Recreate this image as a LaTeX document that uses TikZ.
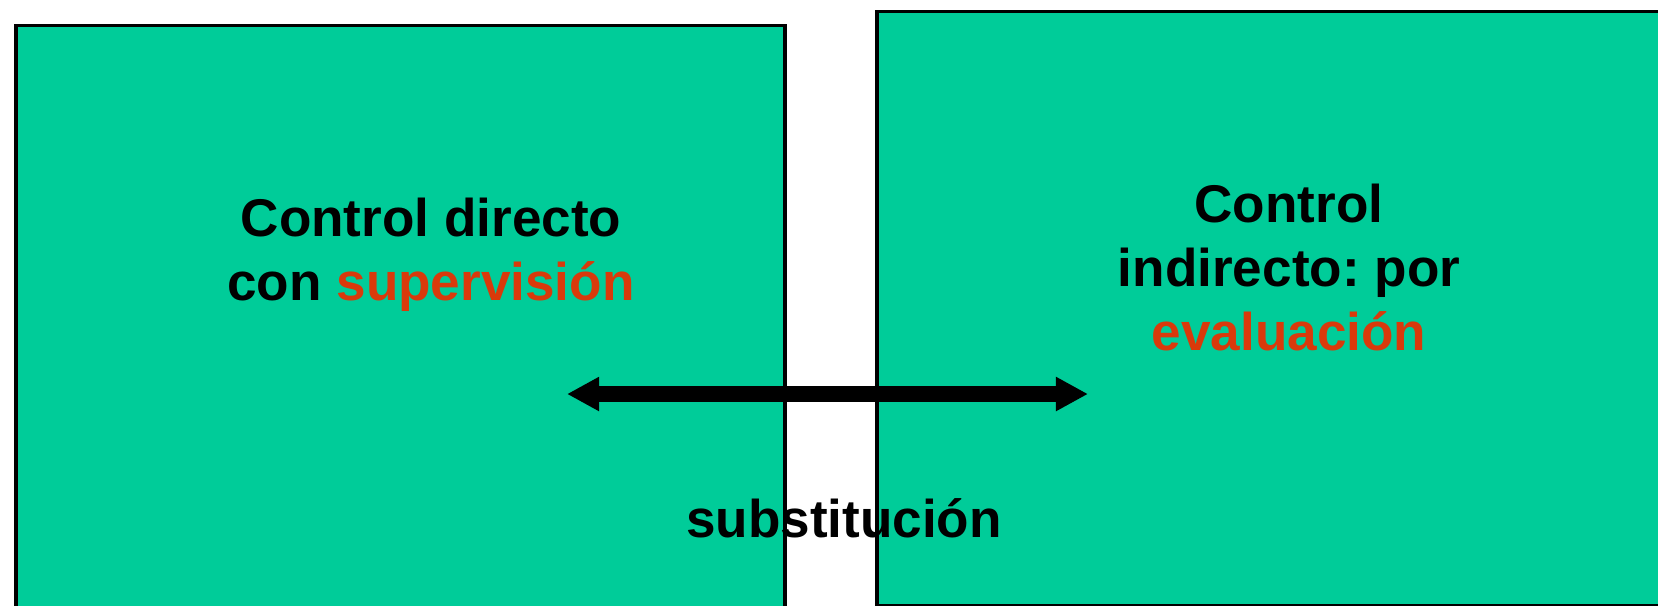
\documentclass[tikz,border=0pt]{standalone}
\usepackage{fontspec}
\setmainfont{Liberation Sans}
\usepackage{xcolor}
\usepackage{tikz}
\usetikzlibrary{arrows.meta,positioning}
\definecolor{Mint}{HTML}{00CC99}
\definecolor{Rust}{HTML}{D93A0B}
\frenchspacing
\tikzset{
  panelbox/.style={draw=black, fill=Mint, line width=1pt, inner sep=0pt, anchor=north west},
  bigtext/.style={font=\fontsize{15.1}{18.1}\selectfont\bfseries, align=center, inner sep=0pt, anchor=base},
  swaparrow/.style={{Triangle[length=3.2mm,width=3.2mm]}-{Triangle[length=3.2mm,width=3.2mm]}, line width=4.3pt},
}

\begin{document}
\begin{tikzpicture}[x=0.01cm,y=-0.01cm]
\path[use as bounding box] (0,0) rectangle (1658,605);

\node[panelbox,minimum width=7.69cm,minimum height=6.4cm] (direct) at (14,23.5) {};
\node[panelbox,minimum width=8.5cm,minimum height=5.94cm] (indirect) at (875,9.5) {};

\node[bigtext] (directtxt) at (431,300) {Control directo\\con \textcolor{Rust}{supervisión}};
\node[bigtext] (indirecttxt) at (1289,350) {Control\\indirecto: por\\\textcolor{Rust}{evaluación}};

\coordinate (swapl) at (567,394);
\coordinate (swapr) at (1088,394);
\draw[swaparrow] (swapl) -- (swapr);

\node[bigtext] (swaptxt) at (844,537) {substitución};
\end{tikzpicture}
\end{document}
